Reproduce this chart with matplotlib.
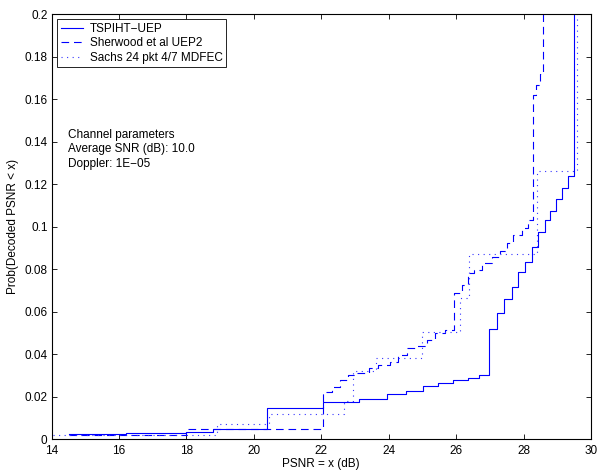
import matplotlib
matplotlib.use('Agg')
import matplotlib.pyplot as plt
from matplotlib.ticker import FormatStrFormatter

plt.rcParams['font.family'] = ['Liberation Sans', 'DejaVu Sans']
plt.rcParams['font.size'] = 8.5
plt.rcParams['lines.scale_dashes'] = False

# TSPIHT-UEP (solid)
tsp_x = [14.5, 16.2, 18.0, 18.8, 20.4, 22.04, 23.13, 23.94, 24.5, 25.01, 25.45, 25.91,
         26.36, 26.69, 26.99, 27.22, 27.43, 27.65, 27.85, 28.05, 28.24, 28.44, 28.64,
         28.79, 28.96, 29.14, 29.32, 29.49]
tsp_y = [0.0024, 0.0030, 0.0034, 0.0050, 0.0149, 0.0174, 0.0190, 0.0215, 0.0227, 0.0252,
         0.0265, 0.0278, 0.0287, 0.0301, 0.0519, 0.0593, 0.0662, 0.0717, 0.0786, 0.0833,
         0.0906, 0.0977, 0.1032, 0.1073, 0.1132, 0.1183, 0.1240, 1.0]

# Sherwood et al UEP2 (dashed)
sher_x = [14.5, 18.0, 22.04, 22.31, 22.55, 22.8, 23.05, 23.42, 23.69, 24.04, 24.29, 24.55,
          24.83, 25.13, 25.37, 25.67, 25.95, 26.17, 26.34, 26.53, 26.77, 27.07, 27.3,
          27.51, 27.7, 27.95, 28.13, 28.27, 28.37, 28.49, 28.59]
sher_y = [0.0020, 0.0048, 0.0224, 0.0248, 0.0279, 0.0303, 0.0311, 0.0334, 0.0350, 0.0365,
          0.0397, 0.0428, 0.0439, 0.0467, 0.0499, 0.0514, 0.0687, 0.0726, 0.0781, 0.0797,
          0.0828, 0.0856, 0.0887, 0.0922, 0.0961, 0.0993, 0.1032, 0.1620, 0.1667, 0.1720, 1.0]

# Sachs 24 pkt 4/7 MDFEC (dotted)
sachs_x = [14.05, 18.9, 20.45, 22.67, 22.95, 23.62, 25.0, 26.12, 26.38, 28.4, 29.58]
sachs_y = [0.0020, 0.0070, 0.0119, 0.0182, 0.0321, 0.0381, 0.0507, 0.0665, 0.0872, 0.1263, 1.0]

fig = plt.figure(figsize=(5.99, 4.70), dpi=100)
ax = fig.add_axes([0.0863, 0.0653, 0.9002, 0.9043])

ax.step(tsp_x, tsp_y, where='post', color='b', lw=0.8, label='TSPIHT\u2212UEP')
ax.step(sher_x, sher_y, where='post', color='b', lw=0.8, ls=(0, (5.5, 3.5)),
        label='Sherwood et al UEP2')
ax.step(sachs_x, sachs_y, where='post', color='#3333ff', lw=0.8, ls=(0, (0.8, 3.2)),
        label='Sachs 24 pkt 4/7 MDFEC')

ax.set_xlim(14, 30)
ax.set_ylim(0, 0.2)
ax.set_xticks(range(14, 31, 2))
ax.set_yticks([i * 0.02 for i in range(11)])
ax.yaxis.set_major_formatter(FormatStrFormatter('%g'))
ax.tick_params(direction='in', length=3.6, width=0.6, top=True, right=True)
ax.tick_params(axis='x', pad=4)
ax.tick_params(axis='y', pad=3)
for s in ax.spines.values():
    s.set_linewidth(0.8)

ax.set_xlabel('PSNR = x (dB)', labelpad=1)
ax.set_ylabel('Prob(Decoded PSNR < x)', labelpad=4)

leg = ax.legend(loc='upper left', bbox_to_anchor=(0.0104, 0.988), borderaxespad=0,
                fancybox=False, framealpha=1, edgecolor='black', handlelength=1.9,
                handletextpad=0.55, labelspacing=0.2, borderpad=0.3)
leg.get_frame().set_linewidth(0.6)

ax.text(14.49, 0.146, 'Channel parameters\nAverage SNR (dB): 10.0\nDoppler: 1E\u221205',
        va='top', ha='left', linespacing=1.25)

fig.savefig('out.png', dpi=100)
